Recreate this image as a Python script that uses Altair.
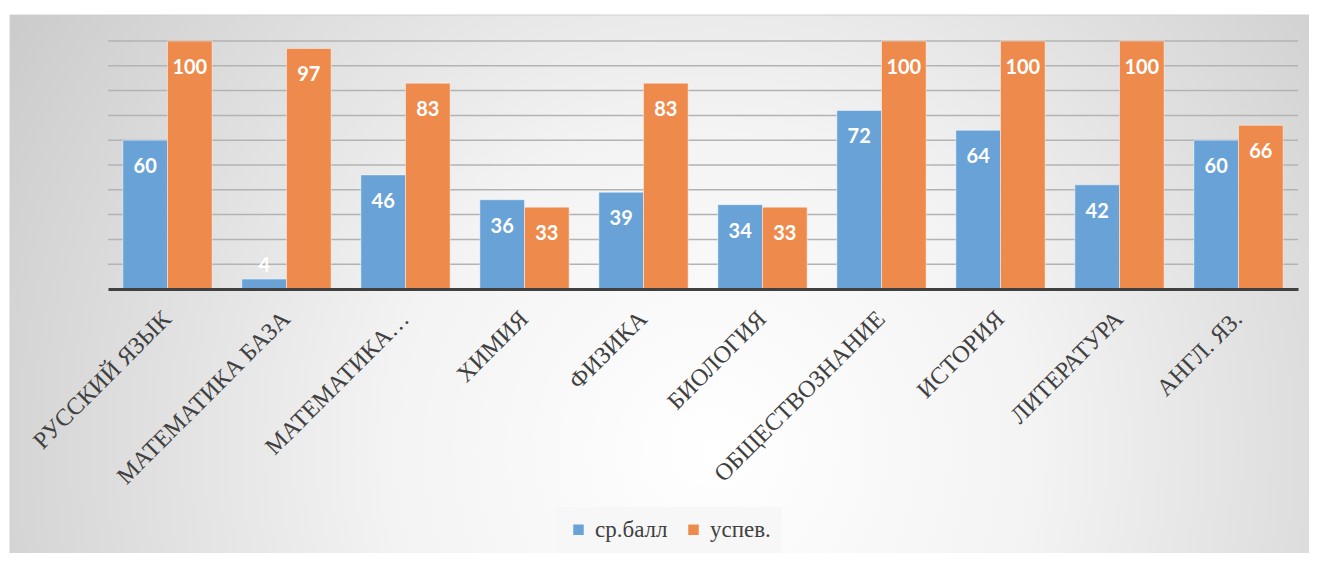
import altair as alt
import pandas as pd

categories = ["РУССКИЙ ЯЗЫК", "МАТЕМАТИКА БАЗА", "МАТЕМАТИКА…", "ХИМИЯ", "ФИЗИКА",
              "БИОЛОГИЯ", "ОБЩЕСТВОЗНАНИЕ", "ИСТОРИЯ", "ЛИТЕРАТУРА", "АНГЛ. ЯЗ."]
avg_score = [60, 4, 46, 36, 39, 34, 72, 64, 42, 60]
success = [100, 97, 83, 33, 83, 33, 100, 100, 100, 66]
series_names = ["ср.балл", "успев."]
colors = ["#68a2d7", "#ee8b4c"]
grid_values = [10, 20, 30, 40, 50, 60, 70, 80, 90, 100]

rows = []
for c, a, s in zip(categories, avg_score, success):
    rows.append({"cat": c, "series": series_names[0], "value": a})
    rows.append({"cat": c, "series": series_names[1], "value": s})
df = pd.DataFrame(rows)

W, H = 1190, 248
SERIF = "Liberation Serif, Times New Roman, serif"

gradient = {
    "gradient": "radial",
    "stops": [
        {"offset": 0, "color": "#ffffff"},
        {"offset": 0.35, "color": "#f3f3f3"},
        {"offset": 1, "color": "#c2c2c2"},
    ],
    "x1": 0.54, "y1": 0.62, "r1": 0,
    "x2": 0.54, "y2": 0.62, "r2": 0.72,
}

bg = alt.Chart(pd.DataFrame({"k": [0]})).mark_rect(fill=gradient, stroke="#d0d0d0", strokeWidth=1).encode(
    x=alt.value(-98), x2=alt.value(1202), y=alt.value(-26), y2=alt.value(530)
)

yscale = alt.Scale(domain=[0, 100])

grid = alt.Chart(pd.DataFrame({"g": grid_values})).mark_rule(color="#b3b3b3", strokeWidth=1.5).encode(
    y=alt.Y("g:Q", scale=yscale, axis=None),
    x=alt.value(0), x2=alt.value(W),
)

xenc = alt.X(
    "cat:N", sort=categories,
    scale=alt.Scale(paddingInner=0.25, paddingOuter=0.125),
    axis=alt.Axis(title=None, labelAngle=-45, labelAlign="right", labelBaseline="middle",
                  labelFont=SERIF, labelFontSize=24, labelColor="#404040",
                  ticks=False, domainColor="#404040", domainWidth=3, labelPadding=26,
                  labelLimit=400, grid=False, zindex=1),
)
xoff = alt.XOffset("series:N", sort=series_names)

base = alt.Chart(df)

bars = base.mark_bar(stroke="#ffffff", strokeOpacity=0.45, strokeWidth=1).encode(
    x=xenc,
    xOffset=xoff,
    y=alt.Y("value:Q", scale=yscale, axis=None),
    color=alt.Color("series:N", sort=series_names,
                    scale=alt.Scale(domain=series_names, range=colors),
                    legend=alt.Legend(orient="none", legendX=448, legendY=466,
                                      direction="horizontal", title=None,
                                      fillColor="#f7f7f7", padding=11,
                                      labelFont=SERIF, labelFontSize=23,
                                      labelColor="#404040", symbolType="square",
                                      symbolSize=110, symbolStrokeWidth=0,
                                      columnPadding=14, labelOffset=5)),
)

labels = base.transform_calculate(pos="max(datum.value, 20)").mark_text(
    color="white", fontWeight="bold", font="Lato", fontSize=20, dy=27, baseline="middle"
).encode(
    x=alt.X("cat:N", sort=categories),
    xOffset=xoff,
    y=alt.Y("pos:Q", scale=yscale, axis=None),
    text=alt.Text("value:Q"),
)

chart = alt.layer(bg, grid, bars, labels).properties(
    width=W, height=H,
    autosize=alt.AutoSizeParams(type="none"),
    padding={"left": 100, "top": 33, "right": 11, "bottom": 264},
    background="#ffffff",
).configure_view(stroke=None)

chart.save("out.html", embed_options={"renderer": "svg", "actions": False})
